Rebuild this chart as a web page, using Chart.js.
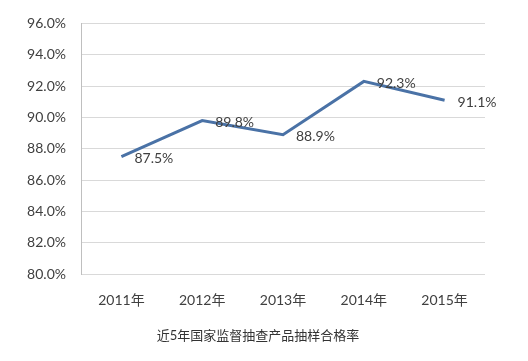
<!DOCTYPE html>
<html>
<head>
<meta charset="utf-8">
<script src="https://cdn.jsdelivr.net/npm/chart.js@4"></script>
<style>
  html, body { margin: 0; padding: 0; background: #fff; }
  #wrap { width: 528px; height: 361px; }
</style>
</head>
<body>
<div id="wrap"><canvas id="grafico" width="528" height="361"></canvas></div>
<script>
// === DADOS ===
const anos = ['2011年', '2012年', '2013年', '2014年', '2015年'];
const taxas = [87.5, 89.8, 88.9, 92.3, 91.1];
const eixoMin = 80;
const eixoMax = 96;
const eixoPasso = 2;
const titulo = '近5年国家监督抽查产品抽样合格率';

const fonte = "Lato, 'Noto Sans CJK SC', sans-serif";

// rótulos ao lado de cada ponto + legenda de baixo
const rotulos = {
  id: 'rotulos',
  afterDatasetsDraw(chart) {
    const ctx = chart.ctx;
    const meta = chart.getDatasetMeta(0);
    ctx.save();
    ctx.font = '14px ' + fonte;
    ctx.fillStyle = '#404040';
    ctx.textAlign = 'left';
    ctx.textBaseline = 'middle';
    meta.data.forEach((p, i) => {
      ctx.fillText(taxas[i].toFixed(1) + '%', p.x + 13, p.y + 2);
    });
    ctx.restore();
  },
  afterDraw(chart) {
    const ctx = chart.ctx;
    ctx.save();
    ctx.font = '13px ' + fonte;
    ctx.fillStyle = '#333';
    ctx.textAlign = 'center';
    ctx.textBaseline = 'middle';
    ctx.fillText(titulo, 258, chart.height - 25);
    ctx.restore();
  }
};

const ctx = document.getElementById('grafico').getContext('2d');
new Chart(ctx, {
  type: 'line',
  data: {
    labels: anos,
    datasets: [{
      data: taxas,
      borderColor: '#4a72a6',
      borderWidth: 3,
      pointRadius: 0,
      tension: 0,
      fill: false
    }]
  },
  options: {
    responsive: false,
    animation: false,
    layout: { padding: { top: 22, right: 43, left: 0, bottom: 34 } },
    plugins: {
      legend: { display: false },
      tooltip: { enabled: false },
      title: { display: false }
    },
    scales: {
      x: {
        offset: true,
        grid: { display: false, drawTicks: false },
        border: { display: false },
        ticks: { color: '#404040', font: { family: fonte, size: 14 }, padding: 18 }
      },
      y: {
        min: eixoMin,
        max: eixoMax,
        grid: { color: '#d9d9d9', drawTicks: false },
        border: { color: '#bfbfbf' },
        ticks: {
          stepSize: eixoPasso,
          color: '#404040',
          font: { family: fonte, size: 14 },
          padding: 15,
          callback: v => v.toFixed(1) + '%'
        },
        afterFit: s => { s.width = 81; }
      }
    }
  },
  plugins: [rotulos]
});
</script>
</body>
</html>
